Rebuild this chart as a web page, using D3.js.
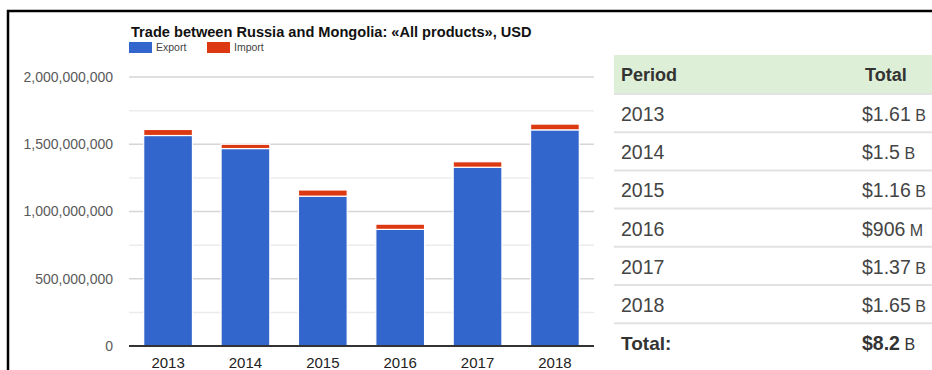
<!DOCTYPE html>
<html>
<head>
<meta charset="utf-8">
<script src="https://cdn.jsdelivr.net/npm/d3@7"></script>
<style>
  body { margin: 0; background: #fff; }
  svg { display: block; font-family: "Liberation Sans", Arial, sans-serif; }
</style>
</head>
<body>
<svg id="chart"></svg>
<script>
var width = 932;
var height = 370;

var years = ["2013", "2014", "2015", "2016", "2017", "2018"];
var exportValues = [1565e6, 1468e6, 1114e6, 867e6, 1329e6, 1607e6];
var importValues = [45e6, 32e6, 46e6, 39e6, 41e6, 43e6];
var yTicks = [0, 500e6, 1000e6, 1500e6, 2000e6];
var gridTicks = [250e6, 750e6, 1250e6, 1750e6];
var tablePeriods = ["2013", "2014", "2015", "2016", "2017", "2018"];
var tableTotals = ["$1.61", "$1.5", "$1.16", "$906", "$1.37", "$1.65"];
var tableUnits = ["B", "B", "B", "M", "B", "B"];
var grandTotal = "$8.2";
var grandUnit = "B";

var rows = years.map((y, i) => ({ year: y, Export: exportValues[i], Import: importValues[i] }));
var series = d3.stack().keys(["Export", "Import"])(rows);
var colors = { Export: "#3366cc", Import: "#dc3912" };

var svg = d3.select("#chart")
    .attr("width", width)
    .attr("height", height);

// frame
svg.append("path")
    .attr("d", "M8,370 V11 H932")
    .attr("fill", "none")
    .attr("stroke", "#000")
    .attr("stroke-width", 2.5);

var xScale = d3.scaleBand()
  .domain(years)
  .range([129, 594])
  .paddingInner(0.37)
  .paddingOuter(0.19);

var yScale = d3.scaleLinear()
  .domain([0, 2e9])
  .range([346, 77]);

// grid
svg.selectAll(".minor")
  .data(gridTicks)
  .enter()
  .append("line")
    .attr("x1", 129).attr("x2", 594)
    .attr("y1", d => yScale(d)).attr("y2", d => yScale(d))
    .attr("stroke", "#ececec")
    .attr("stroke-width", 1.5);

svg.selectAll(".major")
  .data(yTicks.slice(1))
  .enter()
  .append("line")
    .attr("x1", 129).attr("x2", 594)
    .attr("y1", d => yScale(d)).attr("y2", d => yScale(d))
    .attr("stroke", "#d6d6d6")
    .attr("stroke-width", 1.5);

// y labels
svg.selectAll(".ylab")
  .data(yTicks)
  .enter()
  .append("text")
    .attr("x", 113)
    .attr("y", d => yScale(d))
    .attr("dy", "0.35em")
    .attr("text-anchor", "end")
    .attr("font-size", 14)
    .attr("fill", "#5a5a5a")
    .text(d => d3.format(",")(d));

// bars
svg.selectAll(".series")
  .data(series)
  .enter()
  .append("g")
    .attr("fill", d => colors[d.key])
  .selectAll("rect")
  .data(d => d)
  .enter()
  .append("rect")
    .attr("x", d => xScale(d.data.year))
    .attr("width", xScale.bandwidth())
    .attr("y", d => yScale(d[1]))
    .attr("height", d => yScale(d[0]) - yScale(d[1]))
    .attr("stroke", "#fff")
    .attr("stroke-width", 1.2);

// zero line
svg.append("line")
    .attr("x1", 129).attr("x2", 594)
    .attr("y1", yScale(0)).attr("y2", yScale(0))
    .attr("stroke", "#333")
    .attr("stroke-width", 2);

// x labels
svg.selectAll(".xlab")
  .data(years)
  .enter()
  .append("text")
    .attr("x", d => xScale(d) + xScale.bandwidth() / 2)
    .attr("y", 363)
    .attr("dy", "0.35em")
    .attr("text-anchor", "middle")
    .attr("font-size", 15)
    .attr("fill", "#222")
    .text(d => d);

// title and legend
svg.append("text")
    .attr("x", 131)
    .attr("y", 37)
    .attr("font-size", 14.6)
    .attr("font-weight", "bold")
    .attr("fill", "#111")
    .text("Trade between Russia and Mongolia: «All products», USD");

var legend = svg.selectAll(".legend")
  .data(["Export", "Import"])
  .enter()
  .append("g")
    .attr("transform", (d, i) => "translate(" + (129 + i * 78) + ",42)");

legend.append("rect")
    .attr("width", 23)
    .attr("height", 11)
    .attr("fill", d => colors[d]);

legend.append("text")
    .attr("x", 27)
    .attr("y", 9)
    .attr("font-size", 10.5)
    .attr("fill", "#444")
    .text(d => d);

// table
var tableX = 614;
var col1 = 621;
var col2 = 862;
var rowH = 38.2;
var headTop = 55;
var headBottom = 94;

svg.append("rect")
    .attr("x", tableX)
    .attr("y", headTop)
    .attr("width", width - tableX)
    .attr("height", headBottom - headTop)
    .attr("fill", "#ddefd6");

svg.append("text")
    .attr("x", col1).attr("y", 75).attr("dy", "0.35em")
    .attr("font-size", 18).attr("font-weight", "bold").attr("fill", "#333")
    .text("Period");

svg.append("text")
    .attr("x", 865).attr("y", 75).attr("dy", "0.35em")
    .attr("font-size", 18).attr("font-weight", "bold").attr("fill", "#333")
    .text("Total");

var lines = d3.range(tablePeriods.length + 1).map(i => headBottom + i * rowH);

svg.selectAll(".tline")
  .data(lines)
  .enter()
  .append("line")
    .attr("x1", tableX).attr("x2", width)
    .attr("y1", d => d).attr("y2", d => d)
    .attr("stroke", "#e2e2e2")
    .attr("stroke-width", 2);

var tableRows = svg.selectAll(".trow")
  .data(tablePeriods)
  .enter()
  .append("g")
    .attr("transform", (d, i) => "translate(0," + (headBottom + i * rowH + rowH / 2 + 1) + ")");

tableRows.append("text")
    .attr("x", col1).attr("dy", "0.35em")
    .attr("font-size", 19.5).attr("fill", "#444")
    .text(d => d);

var valText = tableRows.append("text")
    .attr("x", col2).attr("dy", "0.35em")
    .attr("font-size", 19.5).attr("fill", "#444");
valText.append("tspan").text((d, i) => tableTotals[i]);
valText.append("tspan").attr("font-size", 16).text((d, i) => " " + tableUnits[i]);

var totalY = headBottom + tablePeriods.length * rowH + rowH / 2 + 1;

svg.append("text")
    .attr("x", col1).attr("y", totalY).attr("dy", "0.35em")
    .attr("font-size", 19).attr("font-weight", "bold").attr("fill", "#333")
    .text("Total:");

var gt = svg.append("text")
    .attr("x", col2).attr("y", totalY).attr("dy", "0.35em")
    .attr("font-size", 19.5).attr("fill", "#333");
gt.append("tspan").attr("font-weight", "bold").text(grandTotal);
gt.append("tspan").attr("font-size", 16).text(" " + grandUnit);
</script>
</body>
</html>
